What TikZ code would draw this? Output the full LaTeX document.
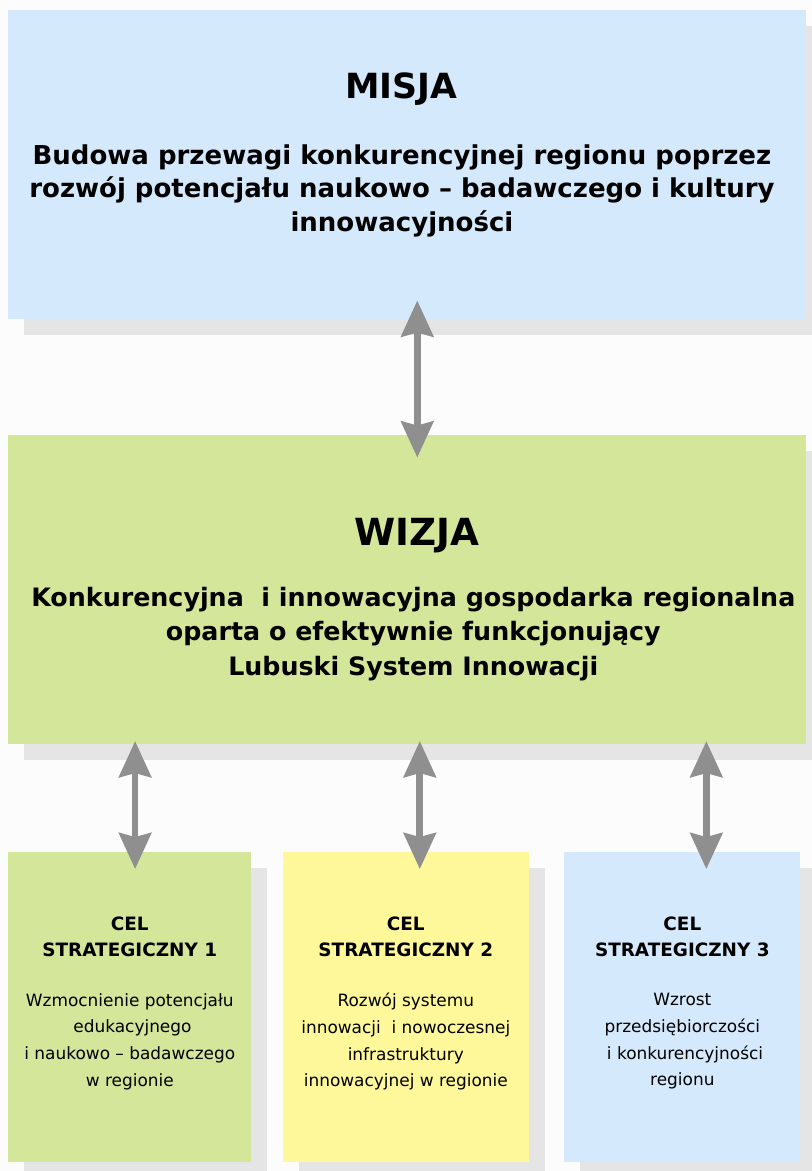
\documentclass[tikz,border=0pt]{standalone}
\usepackage{fontspec}
\setmainfont{DejaVu Sans}
\usepackage{tikz}
\usetikzlibrary{arrows.meta,positioning,shadows}
\definecolor{misjablue}{HTML}{D5E9FC}
\definecolor{wizjagreen}{HTML}{D4E69A}
\definecolor{celyellow}{HTML}{FEF89A}
\definecolor{shadowgray}{HTML}{E5E5E5}
\definecolor{arrowgray}{HTML}{8F8F8F}
\definecolor{bggray}{HTML}{FCFCFC}
\tikzset{
  panel/.style={rectangle, inner sep=0pt, minimum width=598.5pt, minimum height=231.75pt,
    drop shadow={shadow xshift=12pt, shadow yshift=-12pt, fill=shadowgray, opacity=1}},
  goal/.style={panel, minimum height=232.5pt},
  title/.style={inner sep=0pt, font=\fontsize{26}{30}\selectfont\bfseries},
  lead/.style={inner sep=0pt, align=center, font=\fontsize{19.5}{25.2}\selectfont\bfseries},
  head/.style={inner sep=0pt, align=center, font=\fontsize{13.8}{19.5}\selectfont\bfseries},
  body/.style={inner sep=0pt, align=center, font=\fontsize{12.7}{20}\selectfont},
  link/.style={{Stealth[length=27pt,width=24pt,inset=3pt]}-{Stealth[length=27pt,width=24pt,inset=3pt]},
    line width=5pt, draw=arrowgray},
}

\begin{document}
\begin{tikzpicture}
  \useasboundingbox[fill=bggray] (0,0) rectangle (609pt,-878.25pt);

  % boxes
  \node[panel, fill=misjablue, anchor=north west] (misja) at (6pt,-7.5pt) {};
  \node[panel, fill=wizjagreen, below=86.25pt of misja] (wizja) {};
  \node[goal, fill=wizjagreen, minimum width=182.25pt, below right=81pt and 0pt of wizja.south west] (cel1) {};
  \node[goal, fill=celyellow, minimum width=184.5pt, right=23.25pt of cel1] (cel2) {};
  \node[goal, fill=misjablue, minimum width=177pt, right=26.25pt of cel2] (cel3) {};

  % texts
  \node[title, anchor=base] (misjatitle) at ([xshift=-4.5pt, yshift=-66pt]misja.north) {MISJA};
  \node[lead, anchor=north] (misjatext) at ([xshift=-4pt, yshift=-100.5pt]misja.north)
    {Budowa przewagi konkurencyjnej regionu poprzez\\
     rozwój potencjału naukowo – badawczego i kultury\\
     innowacyjności};
  \node[title, font=\fontsize{28}{32}\selectfont\bfseries, anchor=base] (wizjatitle)
    at ([xshift=7.5pt, yshift=-83.25pt]wizja.north) {WIZJA};
  \node[lead, anchor=north, font=\fontsize{19}{26}\selectfont\bfseries] (wizjatext)
    at ([xshift=4.5pt, yshift=-114pt]wizja.north)
    {Konkurencyjna~ i innowacyjna gospodarka regionalna\\
     oparta o efektywnie funkcjonujący\\
     Lubuski System Innowacji};

  \node[head, anchor=north] (cel1head) at ([yshift=-48pt]cel1.north) {CEL\\STRATEGICZNY 1};
  \node[body, anchor=north] (cel1text) at ([yshift=-105.75pt]cel1.north)
    {Wzmocnienie potencjału\\~edukacyjnego\\i naukowo – badawczego\\w regionie};
  \node[head, anchor=north] (cel2head) at ([yshift=-48pt]cel2.north) {CEL\\STRATEGICZNY 2};
  \node[body, anchor=north] (cel2text) at ([yshift=-105.75pt]cel2.north)
    {Rozwój systemu\\innowacji~ i nowoczesnej\\infrastruktury\\innowacyjnej w regionie};
  \node[head, anchor=north] (cel3head) at ([yshift=-48pt]cel3.north) {CEL\\STRATEGICZNY 3};
  \node[body, anchor=north] (cel3text) at ([yshift=-105.75pt]cel3.north)
    {Wzrost\\przedsiębiorczości\\~i konkurencyjności\\regionu};

  % arrows
  \draw[link, shorten <=-14.25pt, shorten >=-17.25pt]
    ([xshift=7.5pt]misja.south) -- ([xshift=7.5pt]wizja.north);
  \foreach \n/\dx in {1/4pt, 2/10.5pt, 3/18pt}
    \draw[link, shorten <=-2.25pt, shorten >=-12.75pt]
      ([xshift=\dx]cel\n.north |- wizja.south) -- ([xshift=\dx]cel\n.north);
\end{tikzpicture}
\end{document}
